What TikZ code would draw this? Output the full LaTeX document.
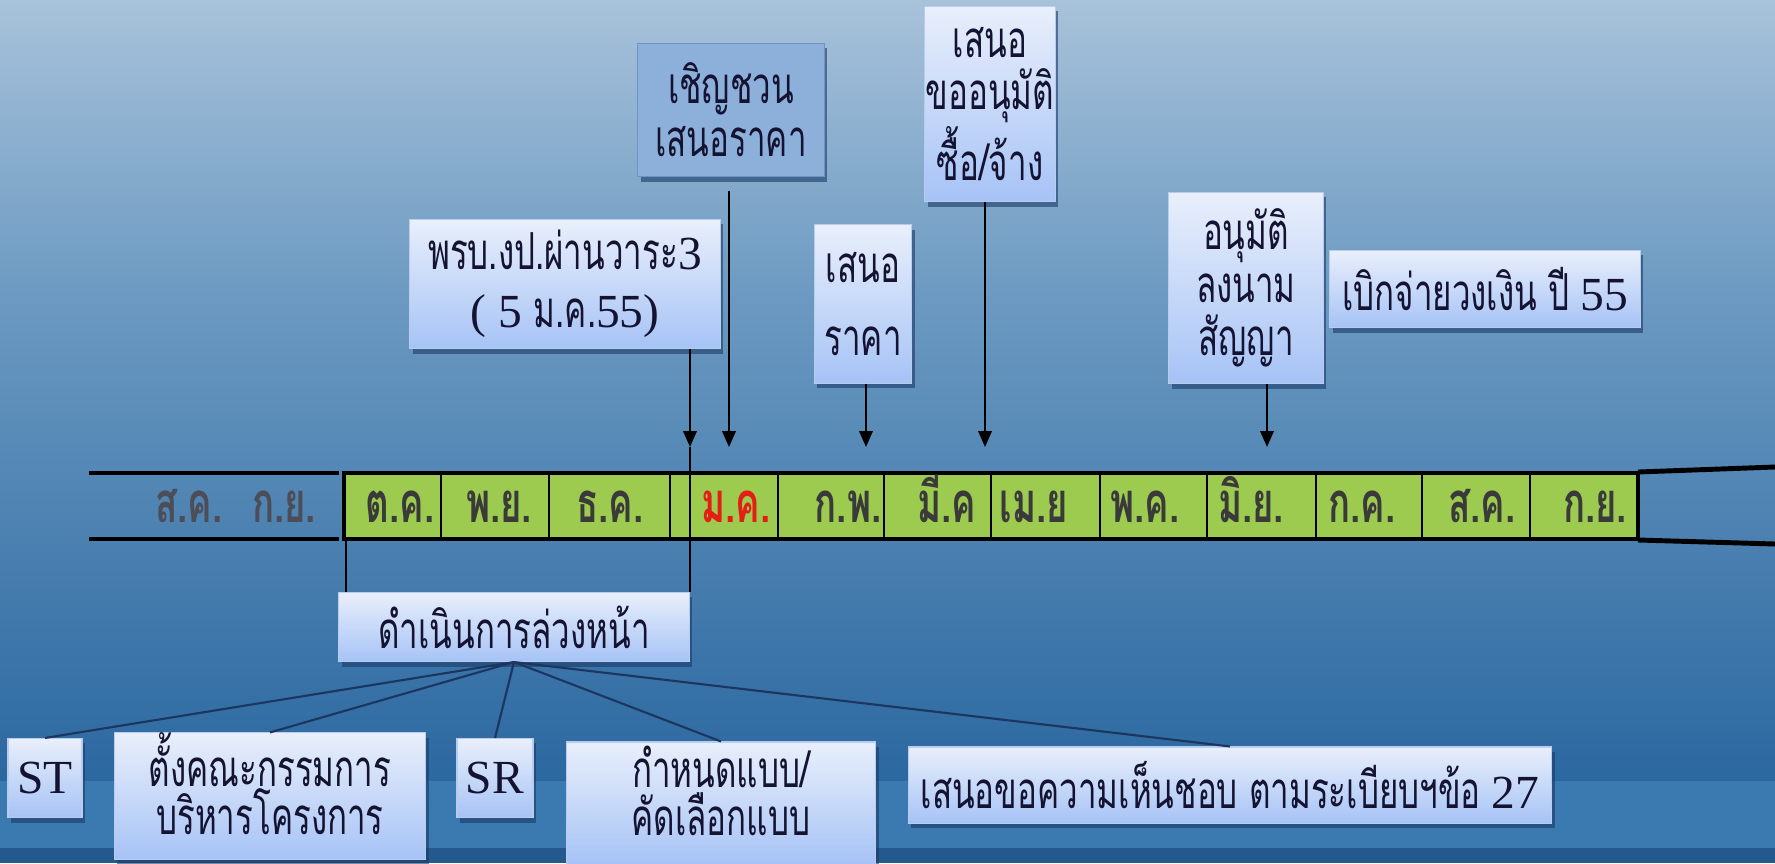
\documentclass[tikz,border=0pt]{standalone}
\usepackage{fontspec}
\setmainfont{Liberation Serif}
\newfontfamily\thaifont[Script=Thai,FakeStretch=0.65]{Loma}
\usetikzlibrary{shadows,arrows.meta}

\definecolor{bgtop}{HTML}{A8C2DA}
\definecolor{bgmid}{HTML}{6B99C1}
\definecolor{bgbot}{HTML}{2B68A0}
\definecolor{bgband}{HTML}{3A7AB0}
\definecolor{bgdark}{HTML}{24598E}
\definecolor{barfill}{HTML}{9CCB4F}
\definecolor{cardtop}{HTML}{E9EFFB}
\definecolor{cardbot}{HTML}{A6C3F6}
\definecolor{cardline}{HTML}{B8CCEE}
\definecolor{cardtext}{HTML}{141432}
\definecolor{invitefill}{HTML}{8DB0DB}
\definecolor{inviteline}{HTML}{6F94C4}
\definecolor{shadowc}{HTML}{1B3A66}
\definecolor{montext}{HTML}{3A3A3A}
\definecolor{monred}{HTML}{E41E14}
\definecolor{monout}{HTML}{4D4D58}
\definecolor{linkc}{HTML}{1C3660}

\newcommand{\lat}[1]{{\rmfamily\fontsize{13.5}{15}\selectfont #1}}

\tikzset{
	card/.style={draw=cardline, line width=0.3pt, top color=cardtop, bottom color=cardbot,
		text=cardtext, align=center, inner sep=0pt,
		font=\thaifont\fontsize{14.5}{15}\selectfont,
		drop shadow={shadow xshift=0.03cm, shadow yshift=-0.05cm, fill=shadowc, opacity=0.6}},
	invitecard/.style={card, draw=inviteline, fill=invitefill, top color=invitefill, bottom color=invitefill},
	mon/.style={font=\thaifont\bfseries\fontsize{16}{16}\selectfont, text=montext, inner sep=0pt, anchor=base},
	arr/.style={black, line width=0.6pt, -{Triangle[length=4.5pt,width=3.8pt]}},
	link/.style={linkc, line width=0.6pt}
}

\begin{document}
\begin{tikzpicture}[x=0.01cm, y=-0.01cm]
	\useasboundingbox (0,0) rectangle (1775,863);
	\shade[top color=bgtop, bottom color=bgmid] (0,0) rectangle (1775,300);
	\shade[top color=bgmid, bottom color=bgbot] (0,299) rectangle (1775,781);
	\fill[bgband] (0,781) rectangle (1775,848);
	\fill[bgdark] (0,848) rectangle (1775,863);

	% time line
	\fill[barfill] (344,473) rectangle (1638,539);
	\foreach \xc in {441,549,670,778,884,991,1100,1207,1316,1422,1530}
		\draw[black, line width=0.7pt] (\xc,473) -- (\xc,539);
	\draw[black, line width=1.4pt] (344,473) rectangle (1638,539);
	\draw[black, line width=1.4pt] (89,473) -- (339,473) (89,539) -- (339,539);
	\draw[black, line width=1.4pt] (1638,472) -- (1775,467) (1638,540) -- (1775,544);

	\node[mon, text=monout] (old1) at (189,522) {ส.ค.};
	\node[mon, text=monout] (old2) at (284,522) {ก.ย.};
	\foreach \xc/\mon/\mc [count=\i] in {400/ต.ค./montext, 499/พ.ย./montext, 610/ธ.ค./montext,
			736/ม.ค./monred, 848/ก.พ./montext, 947/มี.ค/montext, 1034/เม.ย/montext,
			1145/พ.ค./montext, 1251/มิ.ย./montext, 1362/ก.ค./montext, 1482/ส.ค./montext,
			1595/ก.ย./montext}
		\node[mon, text=\mc] (m\i) at (\xc,522) {\mon};

	% boxes above
	\node[card, minimum width=3.10cm, minimum height=1.29cm,
		font=\thaifont\fontsize{14.5}{16.5}\selectfont] (budget) at (565,284)
		{พรบ.งป.ผ่านวาระ\lat{3}\\\lat{( 5 }ม.ค.\lat{55)}};
	\node[invitecard, minimum width=1.86cm, minimum height=1.33cm] (invite) at (731,110)
		{เชิญชวน\\เสนอราคา};
	\node[card, minimum width=0.97cm, minimum height=1.58cm,
		font=\thaifont\fontsize{14.5}{21}\selectfont] (offer) at (863,304) {เสนอ\\ราคา};
	\node[card, minimum width=1.30cm, minimum height=1.95cm] (approve) at (990,104)
		{เสนอ\\ขออนุมัติ\\ซื้อ/จ้าง};
	\node[card, minimum width=1.54cm, minimum height=1.91cm] (sign) at (1246,288)
		{อนุมัติ\\ลงนาม\\สัญญา};
	\node[card, minimum width=3.10cm, minimum height=0.77cm] (pay) at (1485,289)
		{เบิกจ่ายวงเงิน ปี \lat{55}};

	\coordinate (t1) at (690,447);
	\coordinate (t2) at (729,447);
	\coordinate (t3) at (866,447);
	\coordinate (t4) at (985,447);
	\coordinate (t5) at (1267,447);
	\draw[arr] (budget.south -| t1) -- (t1);
	\draw[arr, shorten <=4pt] (invite.south -| t2) -- (t2);
	\draw[arr] (offer.south -| t3) -- (t3);
	\draw[arr] (approve.south -| t4) -- (t4);
	\draw[arr] (sign.south -| t5) -- (t5);

	% boxes below
	\node[card, minimum width=3.50cm, minimum height=0.69cm] (ops) at (514,627) {ดำเนินการล่วงหน้า};
	\coordinate (b1) at (346,539);
	\draw[black, line width=0.5pt] (b1) -- (ops.north -| b1);
	\draw[black, line width=0.5pt] (t1) -- (ops.north -| t1);

	\node[card, minimum width=0.74cm, minimum height=0.79cm] (st) at (45,778) {\lat{ST}};
	\node[card, minimum width=3.11cm, minimum height=1.20cm,
		font=\thaifont\fontsize{14.5}{13.5}\selectfont] (comm) at (270,796)
		{ตั้งคณะกรรมการ\\บริหารโครงการ\rule[-7pt]{0pt}{0pt}};
	\node[card, minimum width=0.76cm, minimum height=0.79cm] (sr) at (495,778) {\lat{SR}};
	\node[card, minimum width=3.09cm, minimum height=1.22cm,
		font=\thaifont\fontsize{14.5}{13.5}\selectfont] (design) at (721,803)
		{กำหนดแบบ/\\คัดเลือกแบบ\rule[-7pt]{0pt}{0pt}};
	\node[card, minimum width=6.43cm, minimum height=0.76cm] (propose) at (1230,785)
		{เสนอขอความเห็นชอบ ตามระเบียบฯข้อ \lat{27}};

	\foreach \kid in {st,comm,sr,design,propose}
		\draw[link] (ops.south) -- (\kid.north);
\end{tikzpicture}
\end{document}
